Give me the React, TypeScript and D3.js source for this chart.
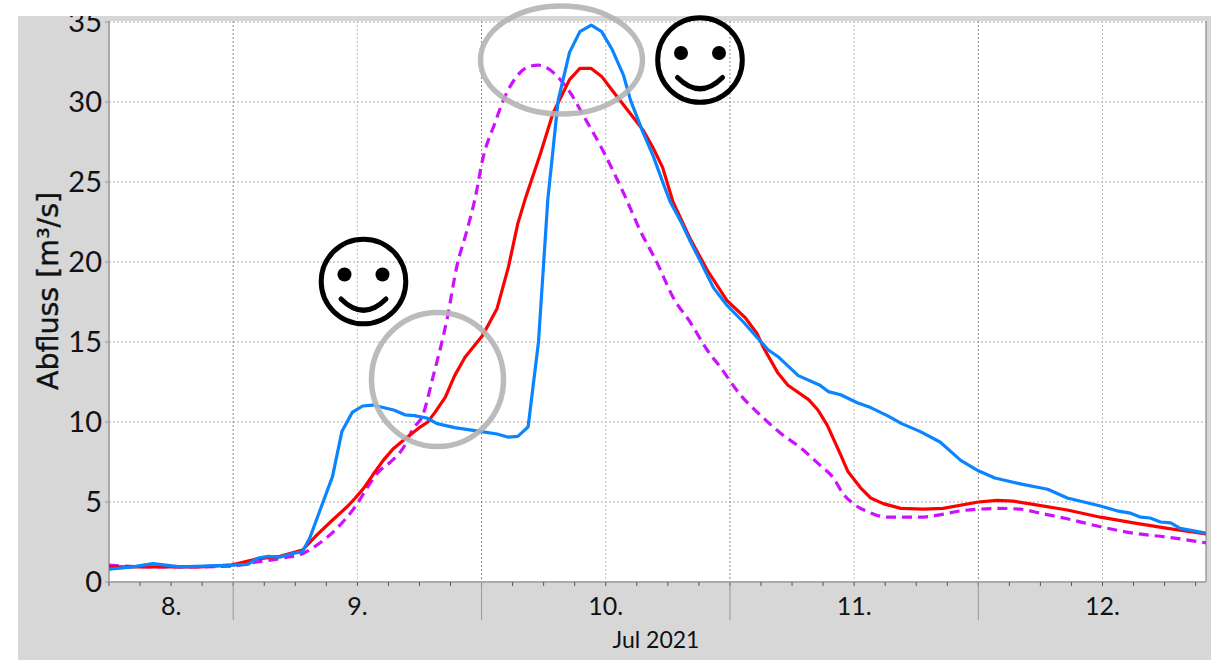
import React from 'react';
import * as d3 from 'd3';

// hours counted from the left edge of the plot (8 Jul 12:00)
const blueHours = [0, 2.3, 4.25, 6.9, 12, 13.4, 14.4, 15.4, 16.5, 17.5, 18.7, 19.4, 20.4, 21.6, 22.5, 23.5, 24.5, 25.5, 27.5, 28.6, 29.5, 30.7, 31.7, 33.4, 36, 37.5, 38.6, 39.5, 40.5, 41.5, 42.4, 43.4, 44.5, 45.5, 46.6, 47.6, 48.6, 49.7, 50.4, 51.6, 52.6, 53.5, 54.2, 55.2, 56.2, 57.1, 58.4, 59.7, 61.3, 62.6, 63.7, 64.7, 66.6, 68.7, 69.5, 70.7, 72.3, 73.6, 75.2, 76.6, 78.4, 80.3, 82.3, 84, 85.6, 88.3, 90.7, 92.6, 95.8, 97.4, 98.7, 99.7, 100.6, 101.6, 102.6, 103.5, 106];
const blueValues = [0.8, 0.95, 1.15, 0.95, 1.05, 1.1, 1.5, 1.6, 1.55, 1.75, 1.9, 2.75, 4.5, 6.6, 9.4, 10.6, 11, 11.06, 10.75, 10.45, 10.4, 10.25, 9.9, 9.65, 9.4, 9.25, 9.05, 9.1, 9.7, 15, 23.9, 30.1, 33.1, 34.4, 34.8, 34.4, 33.3, 31.7, 30.1, 28.1, 26.6, 25, 23.8, 22.6, 21.25, 20.1, 18.4, 17.3, 16.25, 15.3, 14.5, 14.06, 12.9, 12.3, 11.9, 11.7, 11.2, 10.9, 10.4, 9.9, 9.4, 8.75, 7.6, 6.95, 6.5, 6.1, 5.8, 5.25, 4.75, 4.45, 4.3, 4.05, 4, 3.75, 3.7, 3.35, 3.05];

const redHours = [0, 8.8, 11.7, 14.3, 16.5, 18.7, 20.1, 21.4, 23, 23.8, 24.6, 25.5, 26.5, 27.5, 28.8, 30.1, 30.8, 31.5, 32.5, 33.4, 34.4, 36.1, 37.5, 38.6, 39.5, 40.2, 41.7, 42.9, 44.5, 45.5, 46.6, 47.6, 48.6, 51.6, 52.6, 53.5, 54.5, 56.2, 57.8, 59.7, 61.5, 62.6, 63.2, 64.6, 65.6, 67.6, 68.5, 69.4, 70.7, 71.4, 72.6, 73.6, 74.8, 76.5, 78.7, 80.6, 84, 85.8, 87.4, 89.3, 92.6, 95.8, 99, 102.3, 106];
const redValues = [0.95, 0.95, 1.05, 1.45, 1.6, 2, 2.95, 3.75, 4.7, 5.25, 5.85, 6.7, 7.6, 8.35, 9.05, 9.7, 10, 10.6, 11.55, 12.9, 14.05, 15.4, 17.1, 19.7, 22.4, 23.9, 26.8, 29.3, 31.4, 32.1, 32.1, 31.6, 30.75, 28.25, 27.1, 25.9, 23.75, 21.4, 19.5, 17.6, 16.5, 15.55, 14.7, 13.1, 12.3, 11.4, 10.75, 9.8, 7.95, 6.9, 5.9, 5.25, 4.9, 4.6, 4.55, 4.6, 5, 5.1, 5.05, 4.85, 4.5, 4.05, 3.7, 3.35, 3];

const purpleHours = [0, 4, 8.8, 12, 14.3, 16.8, 18.8, 20.4, 21.7, 23, 24, 24.9, 26, 27.2, 28.4, 29.4, 30.3, 31.3, 32.7, 33.6, 34.6, 35.4, 36.1, 37.3, 38.1, 39.4, 40.5, 41.5, 42.4, 43.6, 44.6, 45.8, 47.7, 49.9, 51.3, 53, 54.5, 56.2, 57.8, 59.1, 61, 62.9, 64.9, 66.8, 68.7, 70, 70.9, 71.9, 73.3, 75.2, 78.4, 80.3, 82.3, 84, 86.1, 88.1, 90, 92.6, 95.8, 99, 102.3, 106];
const purpleValues = [1.05, 0.95, 0.95, 1, 1.25, 1.5, 1.8, 2.45, 3.15, 4.05, 4.9, 5.85, 6.85, 7.5, 8.35, 9.6, 10.4, 12.8, 16.55, 19.7, 22, 24.05, 26.4, 28.7, 30.1, 31.6, 32.2, 32.3, 32.1, 31.4, 30.55, 29.2, 27, 24.05, 22, 19.9, 17.8, 16.2, 14.5, 13.4, 11.7, 10.45, 9.3, 8.4, 7.3, 6.5, 5.55, 4.9, 4.4, 4.05, 4.05, 4.2, 4.45, 4.55, 4.6, 4.55, 4.3, 3.95, 3.45, 3.05, 2.8, 2.45];

const yTicks = [0, 5, 10, 15, 20, 25, 30, 35];
const dayLabels = ['8.', '9.', '10.', '11.', '12.'];
const dayLabelHours = [6, 24, 48, 72, 96];

const startTime = new Date(2021, 6, 8, 12);
const endTime = new Date(2021, 6, 12, 22);
const atHour = (h: number) => new Date(startTime.getTime() + h * 3600000);

const margin = { top: 21, right: 5, bottom: 78, left: 109 };
const W = 1211;
const H = 660;
const font = 'Lato, "Noto Sans", sans-serif';

const x = d3.scaleTime().domain([startTime, endTime]).range([margin.left, W - margin.right]);
const y = d3.scaleLinear().domain([0, 35]).range([H - margin.bottom, 22]);

// the red and blue series have visible hourly corners, the dashed one is smooth
const line = d3.line<[number, number]>()
  .x(d => x(atHour(d[0])))
  .y(d => y(d[1]));
const smoothLine = d3.line<[number, number]>()
  .x(d => x(atHour(d[0])))
  .y(d => y(d[1]))
  .curve(d3.curveMonotoneX);

const toPoints = (hours: number[], values: number[]) =>
  hours.map((h, i) => [h, values[i]] as [number, number]);

const Smiley = ({ cx, cy }: { cx: number; cy: number }) => (
  <g fill="none" stroke="#000" strokeWidth={5}>
    <circle cx={cx} cy={cy} r={42.3} />
    <circle cx={cx - 19} cy={cy - 7} r={7} fill="#000" stroke="none" />
    <circle cx={cx + 19} cy={cy - 7} r={7} fill="#000" stroke="none" />
    <path d={`M${cx - 22.5},${cy + 17.5} Q${cx},${cy + 40} ${cx + 22.5},${cy + 17.5}`} strokeLinecap="round" />
  </g>
);

export default function App() {
  const bottom = y(0);
  const minorTicks = x.ticks(d3.timeHour.every(3));
  const gridTicks = x.ticks(d3.timeHour.every(12));
  const dayTicks = x.ticks(d3.timeDay.every(1));

  return (
    <svg width={W} height={H} style={{ position: 'absolute', left: 0, top: 0 }} fontFamily={font}>
      <defs>
        <clipPath id="panel"><rect x={18} y={16} width={W - 18} height={H - 16} /></clipPath>
        <clipPath id="plot"><rect x={margin.left} y={21} width={W - margin.left - margin.right} height={bottom - 21} /></clipPath>
      </defs>
      <rect x={18} y={16} width={W - 18} height={H - 16} fill="#d7d7d7" />
      <rect x={margin.left} y={21} width={W - margin.left - margin.right} height={bottom - 21} fill="#fff" />

      {yTicks.map(t => (
        <line key={t} x1={margin.left} x2={W - margin.right} y1={y(t)} y2={y(t)}
          stroke="#aaa" strokeWidth={1} strokeDasharray="2,2" />
      ))}
      {gridTicks.map(t => (
        <line key={+t} x1={x(t)} x2={x(t)} y1={21} y2={bottom}
          stroke={t.getHours() === 0 ? '#888' : '#bbb'} strokeWidth={1} strokeDasharray="2,2" />
      ))}

      <line x1={margin.left} x2={margin.left} y1={21} y2={bottom} stroke="#aaa" strokeWidth={2} />
      <line x1={W - margin.right} x2={W - margin.right} y1={21} y2={bottom} stroke="#777" strokeWidth={1} />
      <line x1={margin.left} x2={W - margin.right} y1={bottom} y2={bottom} stroke="#aaa" strokeWidth={2} />

      {yTicks.map(t => (
        <line key={t} x1={margin.left - 4} x2={margin.left} y1={y(t)} y2={y(t)} stroke="#999" />
      ))}
      {minorTicks.map(t => (
        <line key={+t} x1={x(t)} x2={x(t)} y1={bottom} y2={bottom + 4} stroke="#555" />
      ))}
      {dayTicks.map(t => (
        <line key={+t} x1={x(t)} x2={x(t)} y1={bottom} y2={bottom + 38} stroke="#999" />
      ))}

      <g clipPath="url(#panel)" fontSize={29} fill="#111" textAnchor="end">
        {yTicks.map(t => (
          <text key={t} x={margin.left - 7} y={y(t)} dy="0.36em">{t}</text>
        ))}
      </g>
      <g fontSize={25} fill="#111" textAnchor="middle">
        {dayLabels.map((d, i) => (
          <text key={d} x={x(atHour(dayLabelHours[i]))} y={bottom + 33}>{d}</text>
        ))}
      </g>
      <text x={656} y={648} fontSize={23} fill="#111" textAnchor="middle">Jul 2021</text>
      <text transform="translate(58,291) rotate(-90)" fontSize={28.5} fontFamily='"DejaVu Sans", sans-serif'
        fill="#111" stroke="#111" strokeWidth={0.4} textAnchor="middle">
        Abfluss [m³/s]
      </text>

      <g clipPath="url(#plot)" fill="none" strokeWidth={3.2} strokeLinejoin="round">
        <path d={smoothLine(toPoints(purpleHours, purpleValues)) ?? ''} stroke="#cc11ff" strokeDasharray="10,6" />
        <path d={line(toPoints(redHours, redValues)) ?? ''} stroke="#ff0000" />
        <path d={line(toPoints(blueHours, blueValues)) ?? ''} stroke="#0a84ff" />
      </g>

      <g fill="none" stroke="#b4b4b4" strokeWidth={5.5} opacity={0.9}>
        <ellipse cx={437.5} cy={379.5} rx={66} ry={67} />
        <ellipse cx={561.5} cy={60} rx={81} ry={54} />
      </g>
      <Smiley cx={363.5} cy={281.5} />
      <Smiley cx={700} cy={60} />
    </svg>
  );
}
